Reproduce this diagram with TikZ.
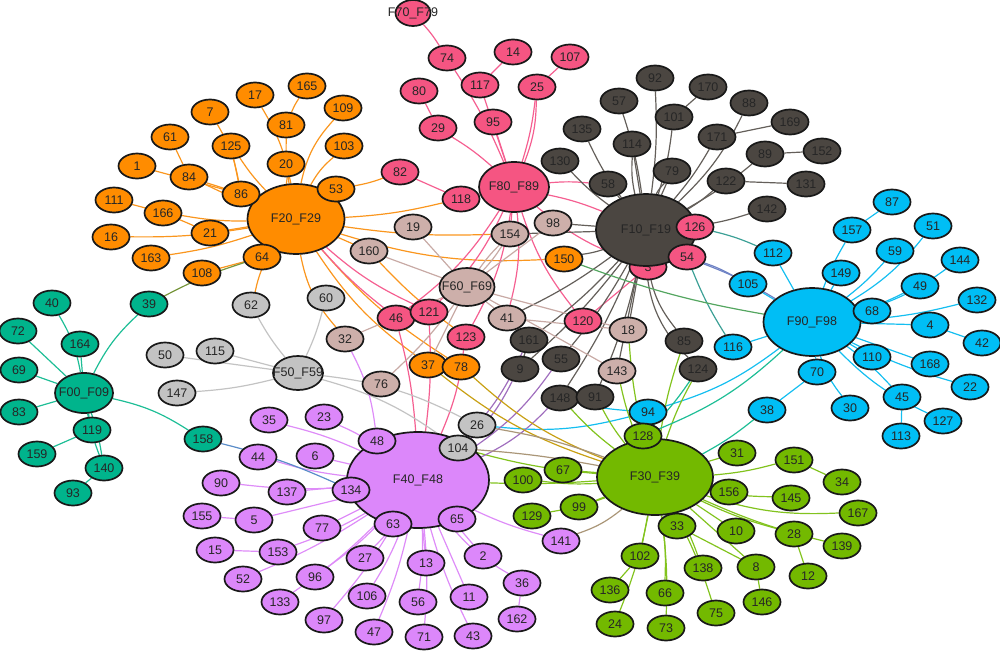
\documentclass[tikz,border=0pt]{standalone}
\usepackage{fontspec}
\setmainfont{Liberation Sans}
\usetikzlibrary{shapes.geometric}
\pgfdeclarelayer{bg}
\pgfsetlayers{bg,main}
\definecolor{cO}{RGB}{255,140,0}
\definecolor{cP}{RGB}{245,85,130}
\definecolor{cD}{RGB}{75,70,65}
\definecolor{cR}{RGB}{205,175,170}
\definecolor{cG}{RGB}{195,195,195}
\definecolor{cT}{RGB}{0,180,140}
\definecolor{cB}{RGB}{0,190,245}
\definecolor{cN}{RGB}{115,185,0}
\definecolor{cV}{RGB}{220,135,250}
\definecolor{eOc}{RGB}{250,150,30}
\definecolor{ePc}{RGB}{245,95,145}
\definecolor{eDc}{RGB}{100,95,90}
\definecolor{eRc}{RGB}{200,170,165}
\definecolor{eGc}{RGB}{195,195,195}
\definecolor{eTc}{RGB}{30,190,150}
\definecolor{eBc}{RGB}{20,190,240}
\definecolor{eNc}{RGB}{130,195,30}
\definecolor{eVc}{RGB}{222,140,248}
\definecolor{olv}{RGB}{120,150,60}
\definecolor{prp}{RGB}{160,110,190}
\definecolor{stl}{RGB}{90,140,200}
\definecolor{gld}{RGB}{200,160,20}
\definecolor{tan1}{RGB}{170,150,120}
\definecolor{tl2}{RGB}{60,160,150}
\begin{document}
\begin{tikzpicture}[x=1pt,y=-1pt,
  nd/.style={ellipse,draw=black!90,line width=1.7pt,minimum width=37pt,minimum height=25pt,inner sep=0pt,font=\fontsize{12.5}{12.5}\selectfont,text=black!85},
  hub/.style 2 args={ellipse,draw=black!90,line width=1.7pt,minimum width=#1,minimum height=#2,inner sep=0pt},
  hl/.style={label={[font=\fontsize{12.5}{12.5}\selectfont,text=black!85]center:#1}},
  ee/.style={line width=1.2pt},
  eO/.style={ee,draw=eOc},
  eP/.style={ee,draw=ePc},
  eD/.style={ee,draw=eDc},
  eR/.style={ee,draw=eRc},
  eG/.style={ee,draw=eGc},
  eT/.style={ee,draw=eTc},
  eB/.style={ee,draw=eBc},
  eN/.style={ee,draw=eNc},
  eV/.style={ee,draw=eVc},
  eX/.style={ee,draw=#1}]
\useasboundingbox (0,0) rectangle (1000,650);
% node hidden behind F10
\node[nd,fill=cP] (v3) at (648,267) {3};
% hubs
\node[hub={97pt}{70pt},fill=cO,hl={F20\_F29}] (F20) at (296,219) {};
\node[hub={70pt}{50pt},fill=cP,hl={F80\_F89}] (F80) at (514,187) {};
\node[hub={100pt}{72pt},fill=cD,hl={F10\_F19}] (F10) at (646,230) {};
\node[hub={55pt}{38pt},fill=cR,hl={F60\_F69}] (F60) at (467,287) {};
\node[hub={50pt}{34pt},fill=cG,hl={F50\_F59}] (F50) at (298,373) {};
\node[hub={58pt}{40pt},fill=cT,hl={F00\_F09}] (F00) at (84,393) {};
\node[hub={97pt}{68pt},fill=cB,hl={F90\_F98}] (F90) at (812,322) {};
\node[hub={116pt}{76pt},fill=cN,hl={F30\_F39}] (F30) at (655,477) {};
\node[hub={142pt}{96pt},fill=cV,hl={F40\_F48}] (F40) at (418,480) {};
\node[hub={35pt}{26pt},fill=cP,hl={F70\_F79}] (F70) at (413,13) {};
% orange
\foreach \n/\x/\y in {165/307/86,17/255/95,7/210/112,61/170/137,1/137/166,111/114/200,166/163/213,84/189/177,125/231/146,86/241/194,81/286/125,20/286/164,109/343/108,103/344/146,53/336/189,21/210/233,16/111/237,163/151/258,108/202/273,64/262/257,150/564/259,37/428/365,78/461/367}
  \node[nd,fill=cO] (v\n) at (\x,\y) {\n};
% pink
\foreach \n/\x/\y in {74/447/58,80/419/91,29/438/128,117/480/85,14/513/52,95/493/122,25/537/87,107/570/57,82/400/172,118/461/199,46/396/318,121/429/312,123/466/337,120/583/321,126/695/227,54/687/257}
  \node[nd,fill=cP] (v\n) at (\x,\y) {\n};
% dark
\foreach \n/\x/\y in {92/655/78,57/619/101,135/582/129,114/632/144,130/560/161,58/608/184,170/708/87,101/674/117,88/749/103,169/790/122,171/717/137,89/765/154,152/822/151,79/672/171,122/726/181,131/806/184,142/767/209,161/529/340,55/561/359,9/520/369,148/560/398,91/595/397,85/684/341,124/698/369}
  \node[nd,fill=cD] (v\n) at (\x,\y) {\n};
% rosy
\foreach \n/\x/\y in {19/413/227,160/369/251,154/510/234,98/553/223,41/507/318,32/345/339,76/381/384,18/628/330,143/617/371}
  \node[nd,fill=cR] (v\n) at (\x,\y) {\n};
% gray
\foreach \n/\x/\y in {62/251/305,60/326/298,50/165/355,115/215/351,147/177/393,26/477/425,104/458/448}
  \node[nd,fill=cG] (v\n) at (\x,\y) {\n};
% teal
\foreach \n/\x/\y in {40/52/303,39/149/304,72/18/331,164/80/344,69/19/370,83/19/412,119/92/430,158/203/439,159/37/454,140/104/468,93/73/493}
  \node[nd,fill=cT] (v\n) at (\x,\y) {\n};
% blue
\foreach \n/\x/\y in {87/892/202,157/852/230,51/933/226,59/895/251,144/960/260,149/841/273,49/920/286,132/977/300,112/773/253,105/748/284,68/872/311,4/930/325,42/982/343,116/733/347,110/872/357,168/930/364,70/817/372,22/970/387,45/902/397,38/767/410,30/850/408,127/943/421,113/901/436,94/648/412}
  \node[nd,fill=cB] (v\n) at (\x,\y) {\n};
% green
\foreach \n/\x/\y in {128/643/436,31/737/453,151/794/460,34/842/482,156/729/492,145/791/498,167/858/513,33/677/526,10/736/531,28/794/534,139/842/546,138/703/568,8/756/567,12/808/576,66/665/593,146/762/602,75/716/613,73/666/628,102/640/556,136/610/590,24/615/624,67/563/470,100/523/480,99/579/507,129/532/516}
  \node[nd,fill=cN] (v\n) at (\x,\y) {\n};
% violet
\foreach \n/\x/\y in {48/377/441,134/351/490,63/393/524,65/457/519,27/365/558,13/426/563,2/483/556,36/522/583,106/367/596,56/418/602,11/469/597,162/517/619,47/374/632,71/424/637,43/473/636,141/561/541,35/269/420,23/324/417,44/258/457,6/315/456,90/221/483,137/287/492,155/202/516,5/254/520,77/322/528,15/215/550,153/278/552,52/243/579,96/315/577,133/280/602,97/324/620}
  \node[nd,fill=cV] (v\n) at (\x,\y) {\n};
% ---------- edges ----------
\begin{pgfonlayer}{bg}
\foreach \a/\b/\k in {F20/v53/5,F20/v103/10,F20/v109/15,F20/v20/5,F20/v81/5,v81/v165/5,F20/v17/-10,F20/v125/5,v125/v86/0,F20/v86/0,v7/v86/10,F20/v84/3,F20/v84/-3,v61/v84/0,v1/v86/0,F20/v21/0,F20/v166/5,v111/v21/5,F20/v163/5,F20/v16/5,F20/v64/0,v64/v108/0,F20/v62/-10,F20/v32/-15,F20/v37/-10,F20/v78/-8,F20/v160/0,F20/v150/-10,F20/v154/-5,F20/v118/-5,v53/v82/-5,v160/v123/-5}
  \draw[eO] (\a) to[bend left=\k] (\b);
\foreach \a/\b/\k in {F70/v74/5,v74/F80/5,v80/v29/0,v29/F80/5,v117/F80/0,v14/v117/0,v95/F80/0,v25/F80/5,v25/F80/10,v107/v25/0,v82/v118/0,v118/F80/0,F80/v58/5,F80/F10/5,F80/v3/-10,F80/v120/-10,F80/v123/10,F80/v46/10,F80/v121/10,F80/v154/0,v120/v3/0,F80/v41/10,F20/v121/-8,F20/v46/-5,F40/v121/-5,F40/v46/-5,F40/v123/-8}
  \draw[eP] (\a) to[bend left=\k] (\b);
\foreach \a/\b/\k in {F10/v92/-5,F10/v57/-5,F10/v135/5,F10/v114/0,v130/F10/-5,v58/F10/0,F10/v101/-5,v101/v170/0,F10/v88/-10,F10/v171/-5,v171/v169/0,F10/v89/-5,v89/v152/0,F10/v79/0,F10/v122/-5,v122/v131/0,F10/v142/-5,F10/v161/5,F10/v55/5,F10/v9/5,F10/v148/5,F10/v91/5,F10/v85/-15,F10/v124/-20,F10/v143/0,F10/v18/0,F10/v150/5,F10/v154/0,F10/v98/0,v161/v9/0,F10/v41/5,F10/v114/8,F10/v79/8}
  \draw[eD] (\a) to[bend left=\k] (\b);
\foreach \a/\b/\k in {F60/v19/0,F60/v160/0,F60/v154/5,F60/v154/-5,F60/v98/0,F60/v41/0,F60/v32/0,F60/v76/5,F60/v18/0,F60/v143/0,v41/v18/0,F60/v37/0}
  \draw[eR] (\a) to[bend left=\k] (\b);
\foreach \a/\b/\k in {F50/v62/5,F50/v60/-5,F50/v50/0,F50/v115/0,F50/v147/5,F50/v26/10,F50/v104/10}
  \draw[eG] (\a) to[bend left=\k] (\b);
\foreach \a/\b/\k in {F00/v40/-10,F00/v39/10,F00/v72/0,F00/v164/0,F00/v69/0,F00/v83/0,F00/v119/0,v119/v159/0,F00/v140/5,F00/v140/-5,v140/v93/0,F00/v158/10}
  \draw[eT] (\a) to[bend left=\k] (\b);
\foreach \a/\b/\k in {F90/v157/5,v157/v87/0,F90/v149/0,F90/v51/-10,F90/v59/-5,F90/v144/-10,F90/v49/-5,F90/v132/-5,F90/v112/0,F90/v105/0,F90/v68/0,F90/v4/0,v4/v42/0,F90/v116/0,F90/v110/0,F90/v168/0,F90/v70/0,v70/v38/0,F90/v22/-5,F90/v45/5,v45/v113/0,F90/v30/-10,F90/v127/-10,F90/v94/10,v94/v148/5,v26/v94/-10}
  \draw[eB] (\a) to[bend left=\k] (\b);
\foreach \a/\b/\k in {F30/v31/0,F30/v151/-5,v151/v34/0,F30/v156/0,F30/v145/-5,F30/v167/-10,F30/v33/0,F30/v10/0,F30/v28/-5,v28/v12/0,F30/v139/-5,F30/v138/5,F30/v8/0,v8/v146/0,F30/v66/5,F30/v75/5,F30/v73/5,F30/v102/0,v102/v136/0,F30/v24/5,F30/v67/0,F30/v100/5,F30/v99/0,F30/v129/5,F30/v128/0,F30/v85/5,F30/v124/5,F30/v148/5,F30/v91/5,F30/v143/5,F30/v104/5,F30/F40/3,v33/v8/0,F30/v18/5}
  \draw[eN] (\a) to[bend left=\k] (\b);
\foreach \a/\b/\k in {F40/v48/0,F40/v134/0,F40/v63/0,F40/v65/0,F40/v35/-5,F40/v23/-5,F40/v44/5,F40/v6/0,F40/v90/5,F40/v137/0,v5/v155/0,F40/v5/0,F40/v77/0,v153/v15/0,F40/v153/5,F40/v52/5,F40/v96/5,F40/v133/5,F40/v97/5,F40/v27/5,F40/v106/5,F40/v13/0,F40/v56/5,F40/v47/5,F40/v71/5,F40/v11/0,F40/v43/-5,F40/v2/0,F40/v36/-10,v36/v162/0,v32/v48/10,F40/v141/-5}
  \draw[eV] (\a) to[bend left=\k] (\b);
\foreach \a/\b/\k in {F40/v161/-10,F40/v9/-10,F40/v55/-10,F40/v148/-10}
  \draw[eX=prp] (\a) to[bend left=\k] (\b);
\draw[eX=olv] (v39) to[bend left=5] (v64);
\draw[eX=stl] (v158) to[bend left=5] (v134);
\draw[eX=tl2] (v126) to[bend left=5] (v112);
\draw[eX=stl!70!prp] (v54) to[bend left=5] (F90);
\draw[eX=stl!70!prp] (v54) to[bend left=5] (v105);
\draw[eX=tl2] (v54) to[bend left=-5] (v116);
\draw[eX=olv!60!eTc] (v150) to[bend right=5] (F90);
\draw[eX=eTc] (v128) to[bend right=10] (F90);
\draw[eX=eTc] (F30) to[bend right=5] (v38);
\draw[eX=eTc] (v124) to[bend left=5] (v128);
\draw[eX=gld] (v37) to[bend left=-10] (F30);
\draw[eX=gld] (v78) to[bend left=-10] (F30);
\draw[eX=tan1] (v141) to[bend right=10] (F30);
\draw[eX=tan1] (v26) to[bend left=5] (F30);
\draw[eX=tan1] (v104) to[bend left=3] (F30);
\end{pgfonlayer}
\end{tikzpicture}
\end{document}
